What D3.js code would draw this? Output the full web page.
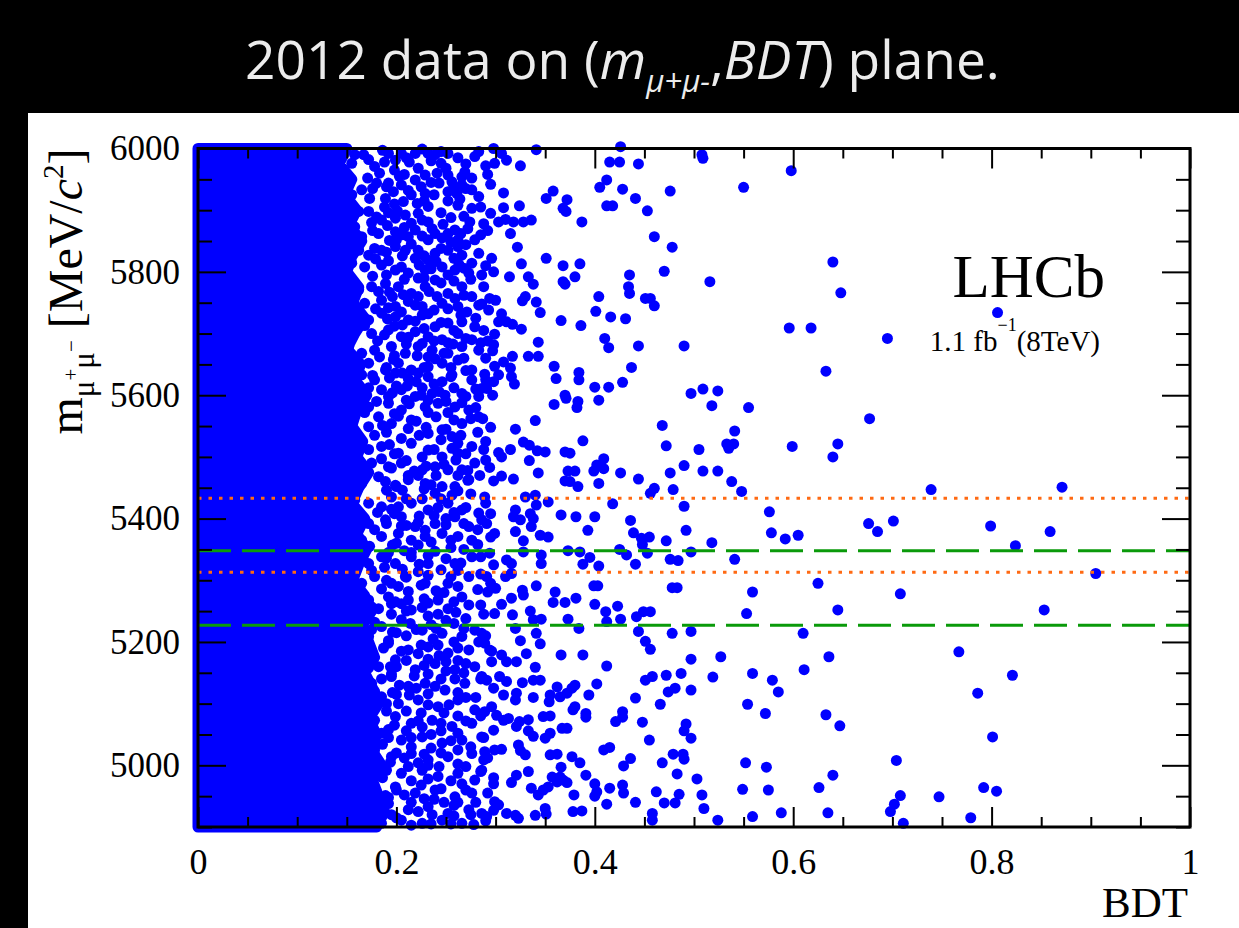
<!DOCTYPE html>
<html>
<head>
<meta charset="utf-8">
<script src="https://cdn.jsdelivr.net/npm/d3@7"></script>
<style>
  html, body { margin: 0; padding: 0; background: #000; }
  svg { display: block; }
</style>
</head>
<body>
<div id="viz"></div>
<script>
// Rangos de los ejes
const rangoBDT = [0, 1];
const rangoMasa = [4900, 6000];
const ticksBDT = [0, 0.2, 0.4, 0.6, 0.8, 1];
const ticksBDTmenor = [0.05, 0.1, 0.15, 0.25, 0.3, 0.35, 0.45, 0.5, 0.55, 0.65, 0.7, 0.75, 0.85, 0.9, 0.95];
const ticksMasa = [5000, 5200, 5400, 5600, 5800, 6000];
const ticksMasaMenor = [4900, 4950, 5050, 5100, 5150, 5250, 5300, 5350, 5450, 5500, 5550, 5650, 5700, 5750, 5850, 5900, 5950];

// Ventanas de masa (lineas horizontales)
const ventanaBs = [5313, 5433];
const ventanaBd = [5227, 5348];

// Zona saturada a BDT bajo: borde derecho (BDT) para cada masa
const masaNucleo = [6000, 5975, 5950, 5925, 5900, 5875, 5850, 5825, 5800, 5775, 5750, 5725, 5700, 5675, 5650, 5625, 5600, 5575, 5550, 5525, 5500, 5475, 5450, 5425, 5400, 5375, 5350, 5325, 5300, 5275, 5250, 5225, 5200, 5175, 5150, 5125, 5100, 5075, 5050, 5025, 5000, 4975, 4950, 4925, 4900];
const bordeNucleo = [0.15, 0.142, 0.155, 0.148, 0.16, 0.152, 0.165, 0.155, 0.15, 0.162, 0.156, 0.168, 0.158, 0.15, 0.164, 0.158, 0.17, 0.16, 0.155, 0.166, 0.16, 0.172, 0.162, 0.155, 0.168, 0.16, 0.17, 0.162, 0.156, 0.168, 0.175, 0.165, 0.172, 0.178, 0.168, 0.176, 0.182, 0.172, 0.18, 0.175, 0.185, 0.176, 0.182, 0.188, 0.18];

// Candidatos [BDT, masa] en la zona de transicion (BDT 0.14 - 0.285)
const zonaTransicion = [
  [0.158,5990],[0.167,5990],[0.192,5992],[0.205,5992],[0.219,5992],[0.232,5992],[0.239,5990],[0.252,5992],[0.279,5987],
  [0.199,5981],[0.178,5971],[0.155,5976],[0.141,5981],[0.229,5957],[0.219,5949],[0.252,5957],[0.266,5954],[0.256,5946],
  [0.266,5941],[0.276,5933],[0.180,5944],[0.192,5944],[0.205,5941],[0.165,5933],[0.155,5925],[0.173,5919],[0.189,5919],
  [0.207,5914],[0.215,5925],[0.229,5927],[0.232,5906],[0.252,5930],[0.261,5927],[0.276,5903],[0.148,5900],[0.162,5898],
  [0.172,5898],[0.180,5889],[0.185,5884],[0.199,5887],[0.209,5892],[0.215,5879],[0.226,5884],[0.232,5881],[0.239,5862],
  [0.252,5862],[0.259,5868],[0.274,5881],[0.158,5873],[0.165,5857],[0.182,5862],[0.199,5865],[0.212,5857],[0.219,5868],
  [0.232,5852],[0.279,5852],[0.152,5841],[0.162,5835],[0.172,5827],[0.185,5835],[0.199,5841],[0.209,5835],[0.219,5822],
  [0.232,5819],[0.239,5830],[0.252,5835],[0.262,5841],[0.266,5827],[0.276,5814],[0.155,5814],[0.168,5808],[0.185,5811],
  [0.199,5803],[0.212,5798],[0.229,5803],[0.246,5808],[0.259,5803],[0.273,5798],[0.152,5781],[0.162,5771],[0.175,5776],
  [0.189,5781],[0.202,5776],[0.215,5765],[0.229,5776],[0.239,5787],[0.252,5765],[0.266,5776],[0.276,5760],[0.155,5749],
  [0.168,5749],[0.185,5754],[0.199,5744],[0.212,5752],[0.226,5744],[0.246,5749],[0.262,5744],[0.283,5746],[0.148,5733],
  [0.158,5719],[0.172,5722],[0.185,5733],[0.199,5727],[0.212,5722],[0.226,5730],[0.239,5711],[0.252,5717],[0.266,5719],
  [0.279,5711],[0.155,5700],[0.175,5700],[0.192,5706],[0.205,5695],[0.219,5703],[0.232,5695],[0.246,5690],[0.262,5700],
  [0.276,5690],[0.152,5679],[0.165,5668],[0.178,5673],[0.195,5679],[0.209,5668],[0.222,5679],[0.236,5673],[0.252,5668],
  [0.266,5679],[0.283,5673],[0.158,5646],[0.172,5652],[0.189,5641],[0.202,5652],[0.215,5641],[0.232,5646],[0.246,5652],
  [0.262,5657],[0.276,5641],
  [0.155,5630],[0.165,5633],[0.178,5625],[0.199,5636],[0.212,5627],[0.232,5630],[0.246,5622],[0.256,5633],[0.276,5625],
  [0.185,5609],[0.205,5609],[0.219,5598],[0.236,5603],[0.249,5600],[0.266,5603],[0.283,5598],[0.158,5587],[0.172,5581],
  [0.192,5587],[0.205,5576],[0.229,5581],[0.242,5587],[0.259,5581],[0.273,5576],[0.283,5565],[0.155,5560],[0.172,5549],
  [0.182,5565],[0.195,5554],[0.212,5546],[0.232,5538],[0.246,5544],[0.256,5533],[0.266,5554],[0.155,5527],[0.165,5517],
  [0.185,5517],[0.202,5506],[0.215,5522],[0.232,5511],[0.246,5500],[0.262,5506],[0.276,5517],[0.158,5495],[0.175,5490],
  [0.192,5484],[0.205,5490],[0.226,5479],[0.239,5484],[0.252,5479],[0.266,5479],[0.279,5490],[0.152,5463],[0.165,5457],
  [0.182,5468],[0.199,5454],[0.212,5463],[0.229,5457],[0.246,5452],[0.259,5452],[0.273,5463],[0.158,5430],[0.172,5425],
  [0.185,5419],[0.202,5419],[0.215,5425],[0.232,5414],[0.252,5425],[0.266,5414],[0.283,5409],[0.155,5398],[0.172,5392],
  [0.189,5398],[0.205,5403],[0.219,5387],[0.239,5392],[0.259,5403],[0.273,5387],[0.148,5371],[0.165,5365],[0.185,5371],
  [0.202,5376],[0.215,5365],[0.229,5371],[0.246,5376],[0.262,5371],[0.276,5365],[0.158,5338],[0.172,5327],[0.185,5338],
  [0.199,5327],[0.215,5338],[0.232,5327],[0.259,5327],[0.276,5338],[0.148,5306],[0.165,5295],[0.178,5306],[0.195,5295],
  [0.209,5306],[0.229,5295],[0.252,5295],[0.273,5306],[0.155,5273],[0.172,5268],[0.192,5273],[0.212,5268],[0.242,5268],
  [0.266,5273],
  [0.158,5263],[0.175,5257],[0.199,5265],[0.215,5252],[0.232,5263],[0.252,5254],[0.273,5260],[0.165,5236],[0.185,5225],
  [0.205,5236],[0.226,5219],[0.246,5214],[0.266,5209],[0.279,5219],[0.155,5198],[0.172,5209],[0.192,5198],[0.212,5187],
  [0.232,5192],[0.252,5182],[0.273,5187],[0.162,5171],[0.182,5160],[0.199,5171],[0.219,5155],[0.239,5165],[0.259,5155],
  [0.279,5160],[0.155,5138],[0.175,5133],[0.195,5144],[0.212,5128],[0.229,5133],[0.249,5122],[0.269,5133],[0.165,5106],
  [0.185,5111],[0.202,5100],[0.222,5106],[0.242,5095],[0.262,5106],[0.279,5090],[0.158,5079],[0.178,5073],[0.199,5079],
  [0.215,5068],[0.236,5073],[0.256,5063],[0.276,5068],[0.165,5046],[0.185,5052],[0.205,5041],[0.226,5046],[0.246,5036],
  [0.266,5041],[0.158,5019],[0.178,5025],[0.195,5014],[0.215,5019],[0.232,5009],[0.252,5014],[0.276,5019],[0.165,4992],
  [0.185,4998],[0.205,4987],[0.226,4992],[0.242,4982],[0.262,4987],[0.279,4976],[0.158,4965],[0.178,4960],[0.199,4965],
  [0.219,4955],[0.239,4960],[0.259,4949],[0.276,4955],[0.172,4933],[0.192,4938],[0.212,4928],[0.232,4933],[0.252,4922],
  [0.273,4928],[0.165,4911],[0.185,4906],[0.205,4911],[0.226,4906],[0.246,4911],[0.266,4906]
];

// Candidatos [BDT, masa] que rellenan los huecos de la zona de transicion
const zonaTransicionExtra = [
  [0.172,5982],[0.186,5997],[0.213,5978],[0.226,5999],[0.245,5976],[0.262,5985],[0.183,5960],[0.198,5965],[0.241,5960],
  [0.171,5952],[0.208,5958],[0.225,5938],[0.243,5944],[0.258,5938],[0.197,5930],[0.176,5935],[0.238,5925],[0.269,5962],
  [0.188,5905],[0.201,5899],[0.221,5911],[0.245,5896],[0.262,5908],[0.175,5880],[0.191,5875],[0.247,5877],[0.268,5890],
  [0.176,5867],[0.193,5851],[0.206,5860],[0.226,5858],[0.246,5855],[0.265,5862],[0.178,5838],[0.222,5835],[0.255,5848],
  [0.179,5821],[0.192,5818],[0.206,5826],[0.223,5811],[0.240,5817],[0.263,5812],[0.176,5793],[0.222,5790],[0.252,5795],
  [0.182,5768],[0.196,5760],[0.207,5763],[0.233,5768],[0.259,5757],[0.179,5740],[0.219,5746],[0.238,5738],[0.271,5735],
  [0.168,5713],[0.191,5724],[0.206,5714],[0.219,5720],[0.245,5718],[0.181,5688],[0.212,5694],[0.226,5684],[0.257,5683],
  [0.183,5662],[0.197,5658],[0.221,5664],[0.239,5659],[0.255,5645],[0.176,5632],[0.193,5628],[0.222,5636],[0.268,5660],
  [0.172,5612],[0.196,5604],[0.211,5615],[0.226,5612],[0.243,5606],[0.180,5590],[0.213,5586],[0.232,5592],[0.266,5588],
  [0.168,5572],[0.186,5551],[0.202,5566],[0.220,5558],[0.240,5565],[0.258,5560],[0.178,5535],[0.223,5535],[0.245,5528],
  [0.172,5512],[0.193,5520],[0.210,5494],[0.226,5500],[0.256,5514],[0.185,5497],[0.218,5477],[0.240,5470],[0.270,5505],
  [0.170,5472],[0.189,5460],[0.206,5446],[0.222,5470],[0.239,5441],[0.195,5435],[0.226,5432],[0.256,5438],[0.272,5478],
  [0.181,5410],[0.195,5415],[0.223,5404],[0.242,5418],[0.258,5410],[0.178,5382],[0.210,5389],[0.229,5381],[0.250,5390],
  [0.173,5355],[0.196,5357],[0.208,5348],[0.222,5357],[0.239,5347],[0.255,5353],[0.190,5336],[0.223,5326],[0.268,5350],
  [0.175,5316],[0.188,5321],[0.206,5318],[0.222,5314],[0.245,5317],[0.262,5316],[0.185,5286],[0.202,5290],[0.240,5283],
  [0.182,5254],[0.195,5262],[0.226,5256],[0.242,5245],[0.260,5248],[0.178,5232],[0.214,5230],[0.235,5228],[0.258,5230],
  [0.175,5220],[0.196,5216],[0.210,5210],[0.237,5205],[0.258,5200],[0.187,5190],[0.222,5181],[0.243,5178],[0.262,5170],
  [0.172,5158],[0.194,5160],[0.210,5170],[0.228,5162],[0.250,5153],[0.185,5140],[0.203,5130],[0.239,5128],[0.259,5140],
  [0.178,5120],[0.196,5118],[0.213,5114],[0.232,5116],[0.253,5098],[0.170,5092],[0.190,5088],[0.225,5085],[0.270,5110],
  [0.176,5060],[0.192,5058],[0.210,5056],[0.226,5062],[0.245,5056],[0.262,5052],[0.186,5034],[0.215,5030],[0.235,5028],
  [0.174,5010],[0.194,5005],[0.208,5012],[0.222,5004],[0.243,4998],[0.262,5002],[0.186,4980],[0.215,4975],[0.232,4978],
  [0.170,4950],[0.189,4951],[0.208,4952],[0.228,4946],[0.248,4940],[0.266,4970],[0.180,4926],[0.222,4925],[0.262,4940],
  [0.178,4904],[0.195,4920],[0.215,4903],[0.236,4920],[0.258,4918],[0.278,4904]
];

// Candidatos [BDT, masa] que completan la densidad entre BDT 0.19 y 0.30
const zonaTransicionRelleno = [
  [0.188,5978],[0.210,5985],[0.222,5968],[0.235,5980],[0.250,5968],[0.270,5975],[0.283,5995],[0.292,5958],[0.203,5955],[0.245,5995],[0.276,5952],
  [0.190,5938],[0.212,5932],[0.228,5915],[0.252,5915],[0.264,5918],[0.283,5922],[0.295,5942],[0.198,5910],[0.235,5945],[0.270,5935],[0.285,5905],
  [0.192,5896],[0.208,5872],[0.222,5895],[0.236,5870],[0.255,5888],[0.272,5870],[0.288,5878],[0.295,5895],[0.200,5852],[0.262,5852],[0.285,5860],
  [0.190,5832],[0.215,5845],[0.228,5826],[0.245,5838],[0.258,5822],[0.270,5844],[0.283,5830],[0.296,5822],[0.205,5808],[0.235,5805],[0.268,5806],
  [0.190,5795],[0.208,5788],[0.228,5790],[0.245,5782],[0.258,5785],[0.275,5788],[0.288,5776],[0.193,5767],[0.222,5760],[0.241,5760],[0.268,5762],
  [0.192,5742],[0.205,5735],[0.232,5732],[0.252,5740],[0.265,5730],[0.280,5725],[0.293,5738],[0.198,5712],[0.228,5708],[0.258,5705],[0.288,5705],
  [0.188,5698],[0.210,5683],[0.238,5688],[0.252,5685],[0.270,5692],[0.285,5685],[0.298,5682],[0.198,5664],[0.232,5662],[0.248,5668],[0.290,5660],
  [0.190,5645],[0.206,5636],[0.228,5645],[0.255,5630],[0.270,5640],[0.290,5625],[0.200,5615],[0.220,5622],[0.238,5618],[0.258,5612],[0.280,5610],
  [0.192,5598],[0.210,5592],[0.225,5600],[0.250,5590],[0.270,5598],[0.280,5580],[0.198,5570],[0.215,5560],[0.232,5572],[0.252,5572],[0.275,5562],
  [0.190,5540],[0.205,5530],[0.230,5548],[0.250,5545],[0.265,5535],[0.282,5540],[0.295,5548],[0.198,5505],[0.238,5512],[0.262,5522],[0.288,5512],
  [0.195,5482],[0.212,5470],[0.230,5485],[0.248,5488],[0.260,5495],[0.272,5462],[0.284,5470],[0.290,5495],[0.200,5452],[0.235,5455],[0.262,5470],
  [0.190,5446],[0.210,5432],[0.228,5448],[0.245,5432],[0.262,5445],[0.275,5440],[0.290,5425],[0.198,5408],[0.238,5405],[0.270,5418],[0.295,5408],
  [0.190,5392],[0.205,5388],[0.222,5394],[0.250,5400],[0.268,5392],[0.282,5382],[0.295,5370],[0.200,5360],[0.235,5362],[0.255,5365],[0.282,5358],
  [0.192,5345],[0.215,5345],[0.232,5340],[0.250,5335],[0.265,5328],[0.285,5338],[0.298,5325],[0.210,5305],[0.232,5308],[0.255,5306],[0.285,5310],
  [0.190,5300],[0.212,5282],[0.225,5292],[0.248,5280],[0.262,5290],[0.282,5285],[0.295,5295],[0.205,5262],[0.228,5270],[0.258,5265],[0.285,5260],
  [0.195,5245],[0.210,5250],[0.232,5242],[0.250,5235],[0.270,5238],[0.288,5245],[0.200,5215],[0.220,5220],[0.240,5222],[0.268,5222],[0.290,5210],
  [0.192,5202],[0.205,5185],[0.225,5195],[0.242,5195],[0.262,5190],[0.283,5200],[0.296,5185],[0.200,5160],[0.232,5172],[0.250,5168],[0.270,5165],
  [0.195,5148],[0.218,5145],[0.232,5148],[0.245,5140],[0.268,5150],[0.285,5140],[0.298,5125],[0.200,5115],[0.220,5125],[0.262,5118],[0.280,5110],
  [0.190,5100],[0.210,5088],[0.232,5098],[0.248,5085],[0.262,5080],[0.285,5080],[0.296,5095],[0.198,5065],[0.222,5072],[0.245,5068],[0.270,5072],
  [0.192,5045],[0.215,5045],[0.235,5050],[0.255,5040],[0.275,5030],[0.288,5045],[0.200,5020],[0.228,5018],[0.245,5020],[0.262,5025],[0.292,5012],
  [0.190,4992],[0.212,4998],[0.232,5000],[0.255,4975],[0.270,4998],[0.285,4990],[0.298,4980],[0.200,4960],[0.225,4968],[0.245,4962],[0.270,4960],
  [0.192,4948],[0.215,4940],[0.238,4945],[0.258,4935],[0.280,4940],[0.292,4955],[0.200,4915],[0.235,4905],[0.255,4905],[0.275,4920],[0.290,4910]
];

// Candidatos [BDT, masa] en la zona media (BDT 0.285 - 0.59)
const zonaMedia = [
  [0.298,6000],[0.306,5992],[0.311,5981],[0.299,5976],[0.290,5972],[0.325,5972],[0.341,5998],[0.426,6003],[0.415,5978],
  [0.425,5978],[0.444,5975],[0.508,5990],[0.509,5984],[0.412,5949],[0.405,5937],[0.428,5934],[0.441,5919],[0.453,5899],
  [0.476,5931],[0.550,5937],[0.308,5928],[0.308,5904],[0.324,5907],[0.351,5919],[0.358,5931],[0.372,5917],[0.368,5903],
  [0.371,5898],[0.412,5907],[0.418,5907],[0.387,5881],[0.303,5881],[0.310,5885],[0.318,5881],[0.328,5881],[0.336,5884],
  [0.315,5862],[0.292,5867],[0.460,5857],[0.478,5840],[0.322,5840],[0.351,5822],[0.326,5813],[0.290,5810],[0.298,5800],
  [0.286,5795],[0.314,5792],[0.333,5792],[0.338,5780],[0.368,5810],[0.385,5813],[0.380,5792],[0.368,5784],[0.370,5780],
  [0.435,5795],[0.470,5801],[0.516,5784],[0.434,5776],[0.435,5765],[0.404,5760],[0.451,5757],[0.456,5757],[0.460,5745],
  [0.401,5736],[0.416,5727],[0.431,5724],[0.366,5721],[0.386,5713],[0.294,5757],[0.300,5754],[0.286,5748],[0.330,5760],
  [0.327,5753],[0.341,5751],[0.345,5734],[0.306,5732],[0.303,5719],[0.311,5719],[0.317,5715],[0.326,5707],[0.299,5699],
  [0.292,5688],[0.297,5672],[0.343,5686],[0.317,5663],[0.333,5663],[0.343,5663],[0.410,5692],[0.414,5677],[0.444,5680],
  [0.490,5680],[0.308,5654],[0.299,5647],[0.315,5644],[0.316,5630],[0.319,5618],[0.289,5634],[0.303,5633],[0.298,5622],
  [0.291,5611],[0.286,5611],[0.297,5600],[0.359,5647],[0.361,5627],[0.359,5585],[0.370,5600],[0.371,5595],[0.384,5637],
  [0.384,5625],[0.383,5590],[0.382,5580],[0.400,5613],[0.404,5592],[0.414,5613],[0.428,5621],[0.437,5645],[0.497,5603],
  [0.509,5610],[0.524,5607],[0.518,5583],[0.555,5580],[0.287,5562],[0.340,5559],[0.320,5545],[0.468,5551],[0.541,5542],
  [0.290,5525],[0.328,5524],[0.334,5519],[0.342,5510],[0.350,5508],[0.303,5507],[0.306,5500],[0.315,5512],[0.388,5526],
  [0.370,5508],[0.375,5506],[0.472,5518],[0.505,5512],[0.533,5521],[0.540,5521],[0.535,5514],[0.334,5494],[0.294,5483],
  [0.343,5474],[0.373,5477],[0.380,5477],[0.399,5477],[0.402,5487],[0.409,5497],[0.409,5481],[0.426,5474],[0.444,5464],
  [0.476,5474],[0.490,5486],[0.509,5477],[0.524,5477],[0.306,5469],[0.318,5464],[0.298,5461],[0.370,5461],[0.375,5460],
  [0.404,5457],[0.538,5460],
  [0.383,5452],[0.460,5449],[0.456,5441],[0.479,5447],[0.548,5444],[0.289,5435],[0.330,5435],[0.340,5438],[0.353,5427],
  [0.341,5422],[0.418,5424],[0.490,5420],[0.576,5411],[0.366,5406],[0.381,5403],[0.400,5403],[0.436,5397],[0.439,5377],
  [0.393,5381],[0.492,5381],[0.578,5377],[0.320,5414],[0.318,5403],[0.325,5398],[0.335,5408],[0.338,5400],[0.336,5387],
  [0.286,5398],[0.291,5392],[0.299,5376],[0.320,5379],[0.328,5364],[0.345,5373],[0.353,5370],[0.447,5368],[0.455,5370],
  [0.472,5364],[0.518,5361],[0.448,5358],[0.294,5344],[0.311,5333],[0.316,5327],[0.328,5346],[0.346,5341],[0.346,5327],
  [0.373,5348],[0.385,5346],[0.395,5337],[0.388,5326],[0.404,5323],[0.432,5341],[0.441,5326],[0.453,5344],[0.476,5334],
  [0.484,5332],[0.497,5346],[0.541,5334],[0.425,5350],[0.291,5306],[0.310,5306],[0.316,5311],[0.292,5281],[0.300,5287],
  [0.306,5261],[0.316,5271],[0.327,5284],[0.328,5276],[0.341,5291],[0.360,5281],[0.358,5264],[0.370,5264],[0.381,5271],
  [0.399,5291],[0.403,5291],[0.400,5261],[0.423,5258],[0.411,5249],[0.426,5237],[0.478,5288],[0.483,5288],[0.559,5281],
  [0.553,5246],[0.442,5241],[0.449,5249],[0.456,5249],[0.299,5246],[0.317,5244],[0.335,5250],[0.338,5236],[0.346,5237],
  [0.373,5237],[0.412,5233],[0.320,5222],[0.325,5202],[0.341,5214],[0.345,5197],[0.384,5222],[0.444,5217],[0.451,5201],
  [0.456,5188],[0.478,5214],[0.497,5217],[0.286,5214],[0.289,5198],[0.294,5187],[0.296,5168],[0.306,5179],[0.311,5168],
  [0.321,5168],[0.331,5181],[0.340,5159],[0.286,5144],[0.291,5138],[0.304,5144],[0.311,5136],[0.308,5114],[0.320,5106],
  [0.321,5117],[0.327,5134],[0.338,5138],[0.345,5138],[0.366,5179],[0.388,5179],[0.412,5161],[0.402,5132],[0.394,5114],
  [0.362,5127],[0.355,5114],[0.354,5103],[0.365,5111],[0.372,5117],[0.377,5125],[0.380,5130],[0.338,5110],[0.289,5087],
  [0.301,5081],[0.308,5073],[0.313,5076],[0.321,5063],[0.324,5071],[0.333,5074],[0.333,5056],[0.338,5047],[0.348,5079],
  [0.355,5080],[0.350,5044],[0.355,5052],[0.367,5060],[0.372,5060],[0.378,5090],[0.380,5095],[0.391,5084],[0.391,5078],
  [0.421,5071],[0.428,5087],[0.428,5078],[0.441,5109],[0.448,5070],[0.466,5099],[0.451,5138],[0.458,5144],[0.472,5146],
  [0.474,5119],[0.481,5125],[0.487,5149],[0.497,5122],[0.497,5172],[0.519,5143],[0.527,5176],[0.559,5149],[0.554,5099],
  [0.572,5084],[0.579,5138],[0.585,5119],[0.298,5057],[0.286,5046],[0.289,5022],[0.288,5009],[0.286,4992],[0.299,5025],
  [0.306,5026],[0.323,5033],[0.325,5024],[0.330,5017],[0.333,4990],[0.355,5017],[0.362,5018],[0.366,4997],[0.377,5014],
  [0.385,5004],[0.391,4984],[0.409,5025],[0.415,5029],[0.429,4999],[0.436,5011],[0.455,5041],[0.468,5004],[0.479,5018],
  [0.489,5018],[0.490,5010],[0.490,5056],[0.492,5067],[0.497,5044],[0.483,4986],[0.503,4978],[0.552,5004],[0.573,4997],
  [0.298,4970],[0.316,4972],[0.321,4984],[0.336,4963],[0.343,4952],[0.348,4960],[0.353,4965],[0.357,4981],[0.362,4973],
  [0.365,4981],[0.368,4976],[0.372,4972],[0.379,4952],[0.400,4970],[0.402,4957],[0.400,4950],[0.415,4963],[0.428,4968],
  [0.429,4955],[0.441,4940],[0.412,4937],[0.462,4957],[0.470,4939],[0.481,4939],[0.485,4953],[0.508,4952],[0.510,4930],
  [0.549,4961],[0.575,4960],[0.299,4941],[0.303,4936],[0.298,4927],[0.286,4922],[0.291,4917],[0.311,4922],[0.320,4919],
  [0.323,4914],[0.340,4919],[0.350,4930],[0.351,4921],[0.378,4925],[0.387,4926],[0.458,4922],[0.458,4911],[0.524,4911],
  [0.559,4917]
];

// Candidatos [BDT, masa] dispersos a BDT alto
const zonaDispersa = [
  [0.598,5964],[0.640,5816],[0.648,5766],[0.596,5709],[0.618,5709],[0.695,5692],[0.806,5734],[0.633,5639],[0.677,5562],
  [0.599,5517],[0.645,5521],[0.640,5500],[0.739,5447],[0.871,5451],[0.592,5367],[0.605,5373],[0.676,5392],[0.685,5379],
  [0.701,5396],[0.799,5388],[0.859,5379],[0.824,5356],[0.905,5311],[0.625,5295],[0.708,5278],[0.645,5252],[0.853,5252],
  [0.610,5214],[0.636,5176],[0.767,5184],[0.611,5155],[0.821,5146],[0.786,5117],[0.633,5082],[0.647,5064],[0.801,5046],
  [0.704,5008],[0.640,4984],[0.626,4964],[0.792,4964],[0.805,4958],[0.708,4951],[0.747,4949],[0.588,4923],[0.635,4923],
  [0.698,4925],[0.702,4937],[0.711,4906],[0.779,4915]
];

// Configuracion general
const ancho = 1239;
const alto = 928;
const azul = '#0000ff';
const radio = 5.5;
const fuenteSerif = '"Liberation Serif", "Times New Roman", serif';

const svg = d3.select('#viz').append('svg')
    .attr('width', ancho)
    .attr('height', alto);

// Fondo negro con el panel blanco de la figura
svg.append('rect').attr('width', ancho).attr('height', alto).attr('fill', '#000');
svg.append('rect')
    .attr('x', 28).attr('y', 113)
    .attr('width', ancho - 28).attr('height', alto - 113)
    .attr('fill', '#fff');

// Titulo de la diapositiva
const titulo = svg.append('text')
    .attr('font-family', '"Open Sans", "DejaVu Sans", sans-serif')
    .attr('font-size', 53)
    .attr('fill', '#ececec');
titulo.append('tspan').text('2012 data on (');
titulo.append('tspan').attr('font-style', 'italic').text('m');
titulo.append('tspan').attr('font-style', 'italic').attr('font-size', 31).attr('dy', 13).text('μ+μ-');
titulo.append('tspan').attr('dy', -13).text(',');
titulo.append('tspan').attr('font-style', 'italic').text('BDT');
titulo.append('tspan').text(') plane.');
const anchoTitulo = titulo.node().getComputedTextLength();
titulo.attr('transform', `translate(245,79) scale(${755 / anchoTitulo},1)`);

// Escalas
const x = d3.scaleLinear().domain(rangoBDT).range([198, 1190]);
const y = d3.scaleLinear().domain(rangoMasa).range([827, 148.5]);

// Zona saturada de puntos (se engrosa con el trazo igual que el radio del marcador)
const nucleo = masaNucleo.map((m, i) => ({ masa: m, bdt: bordeNucleo[i] }));
const area = d3.area()
    .y(d => y(d.masa))
    .x0(x(0))
    .x1(d => x(d.bdt));
svg.append('path')
    .datum(nucleo)
    .attr('d', area)
    .attr('fill', azul)
    .attr('stroke', azul)
    .attr('stroke-width', radio * 2)
    .attr('stroke-linejoin', 'round');

// Puntos individuales
const candidatos = zonaTransicion.concat(zonaTransicionExtra, zonaTransicionRelleno, zonaMedia, zonaDispersa);
svg.append('g')
    .selectAll('circle')
    .data(candidatos)
    .join('circle')
    .attr('cx', d => x(d[0]))
    .attr('cy', d => y(d[1]))
    .attr('r', radio)
    .attr('fill', azul);

// Lineas de las ventanas de masa
const lineas = [
    { masa: ventanaBs[1], color: '#ff6a13', dash: '3.5,7' },
    { masa: ventanaBd[1], color: '#0a9a0a', dash: '33,11' },
    { masa: ventanaBs[0], color: '#ff6a13', dash: '3.5,7' },
    { masa: ventanaBd[0], color: '#0a9a0a', dash: '33,11' }
];
svg.append('g')
    .selectAll('line')
    .data(lineas)
    .join('line')
    .attr('x1', x(rangoBDT[0]))
    .attr('x2', x(rangoBDT[1]))
    .attr('y1', d => y(d.masa))
    .attr('y2', d => y(d.masa))
    .attr('stroke', d => d.color)
    .attr('stroke-width', 3)
    .attr('stroke-dasharray', d => d.dash);

// Ejes con ticks hacia dentro en los cuatro lados
function dibujarEje(generador, transform, valores, largo, conEtiquetas, padding) {
    const g = svg.append('g')
        .attr('transform', transform)
        .call(generador.tickValues(valores)
            .tickSize(-largo)
            .tickPadding(padding || 0)
            .tickFormat(conEtiquetas ? d3.format('~g') : ''));
    g.select('.domain').remove();
    g.selectAll('line').attr('stroke', '#000').attr('stroke-width', 2);
    g.selectAll('text')
        .attr('font-family', fuenteSerif)
        .attr('font-size', 36)
        .attr('fill', '#000');
    return g;
}

const abajo = `translate(0,${y(rangoMasa[0])})`;
const arriba = `translate(0,${y(rangoMasa[1])})`;
const izquierda = `translate(${x(rangoBDT[0])},0)`;
const derecha = `translate(${x(rangoBDT[1])},0)`;

dibujarEje(d3.axisBottom(x), abajo, ticksBDT, 20, true, 21);
dibujarEje(d3.axisBottom(x), abajo, ticksBDTmenor, 10, false);
dibujarEje(d3.axisTop(x), arriba, ticksBDT, 20, false);
dibujarEje(d3.axisTop(x), arriba, ticksBDTmenor, 10, false);
const ejeY = dibujarEje(d3.axisLeft(y), izquierda, ticksMasa, 28, true, 18);
ejeY.selectAll('text').attr('font-size', 35);
dibujarEje(d3.axisLeft(y), izquierda, ticksMasaMenor, 14, false);
dibujarEje(d3.axisRight(y), derecha, ticksMasa, 28, false);
dibujarEje(d3.axisRight(y), derecha, ticksMasaMenor, 14, false);

// Marco
svg.append('rect')
    .attr('x', x(rangoBDT[0]))
    .attr('y', y(rangoMasa[1]))
    .attr('width', x(rangoBDT[1]) - x(rangoBDT[0]))
    .attr('height', y(rangoMasa[0]) - y(rangoMasa[1]))
    .attr('fill', 'none')
    .attr('stroke', '#000')
    .attr('stroke-width', 3);

// Titulo eje X
svg.append('text')
    .attr('x', x(rangoBDT[1]) - 2)
    .attr('y', 917)
    .attr('text-anchor', 'end')
    .attr('font-family', fuenteSerif)
    .attr('font-size', 43)
    .text('BDT');

// Titulo eje Y (rotado)
const tituloY = svg.append('text')
    .attr('transform', `translate(82,${y(rangoMasa[1])}) rotate(-90)`)
    .attr('text-anchor', 'end')
    .attr('font-family', fuenteSerif)
    .attr('font-size', 48);
tituloY.append('tspan').text('m');
tituloY.append('tspan').attr('font-size', 31).attr('dy', 12).text('μ');
tituloY.append('tspan').attr('font-size', 21).attr('dy', -16).text('+');
tituloY.append('tspan').attr('font-size', 31).attr('dy', 16).text('μ');
tituloY.append('tspan').attr('font-size', 21).attr('dy', -16).text('−');
tituloY.append('tspan').attr('dy', 4).text(' [MeV/');
tituloY.append('tspan').attr('font-style', 'italic').text('c');
tituloY.append('tspan').attr('font-size', 29).attr('dy', -19).text('2');
tituloY.append('tspan').attr('dy', 19).text(']');

// Etiquetas LHCb
svg.append('text')
    .attr('x', 1105).attr('y', 297)
    .attr('text-anchor', 'end')
    .attr('font-family', fuenteSerif)
    .attr('font-size', 61)
    .text('LHCb');

const lumi = svg.append('text')
    .attr('x', 1100).attr('y', 351)
    .attr('text-anchor', 'end')
    .attr('font-family', fuenteSerif)
    .attr('font-size', 29);
lumi.append('tspan').text('1.1 fb');
lumi.append('tspan').attr('font-size', 18).attr('dy', -20).text('−1');
lumi.append('tspan').attr('dy', 20).text('(8TeV)');
</script>
</body>
</html>
